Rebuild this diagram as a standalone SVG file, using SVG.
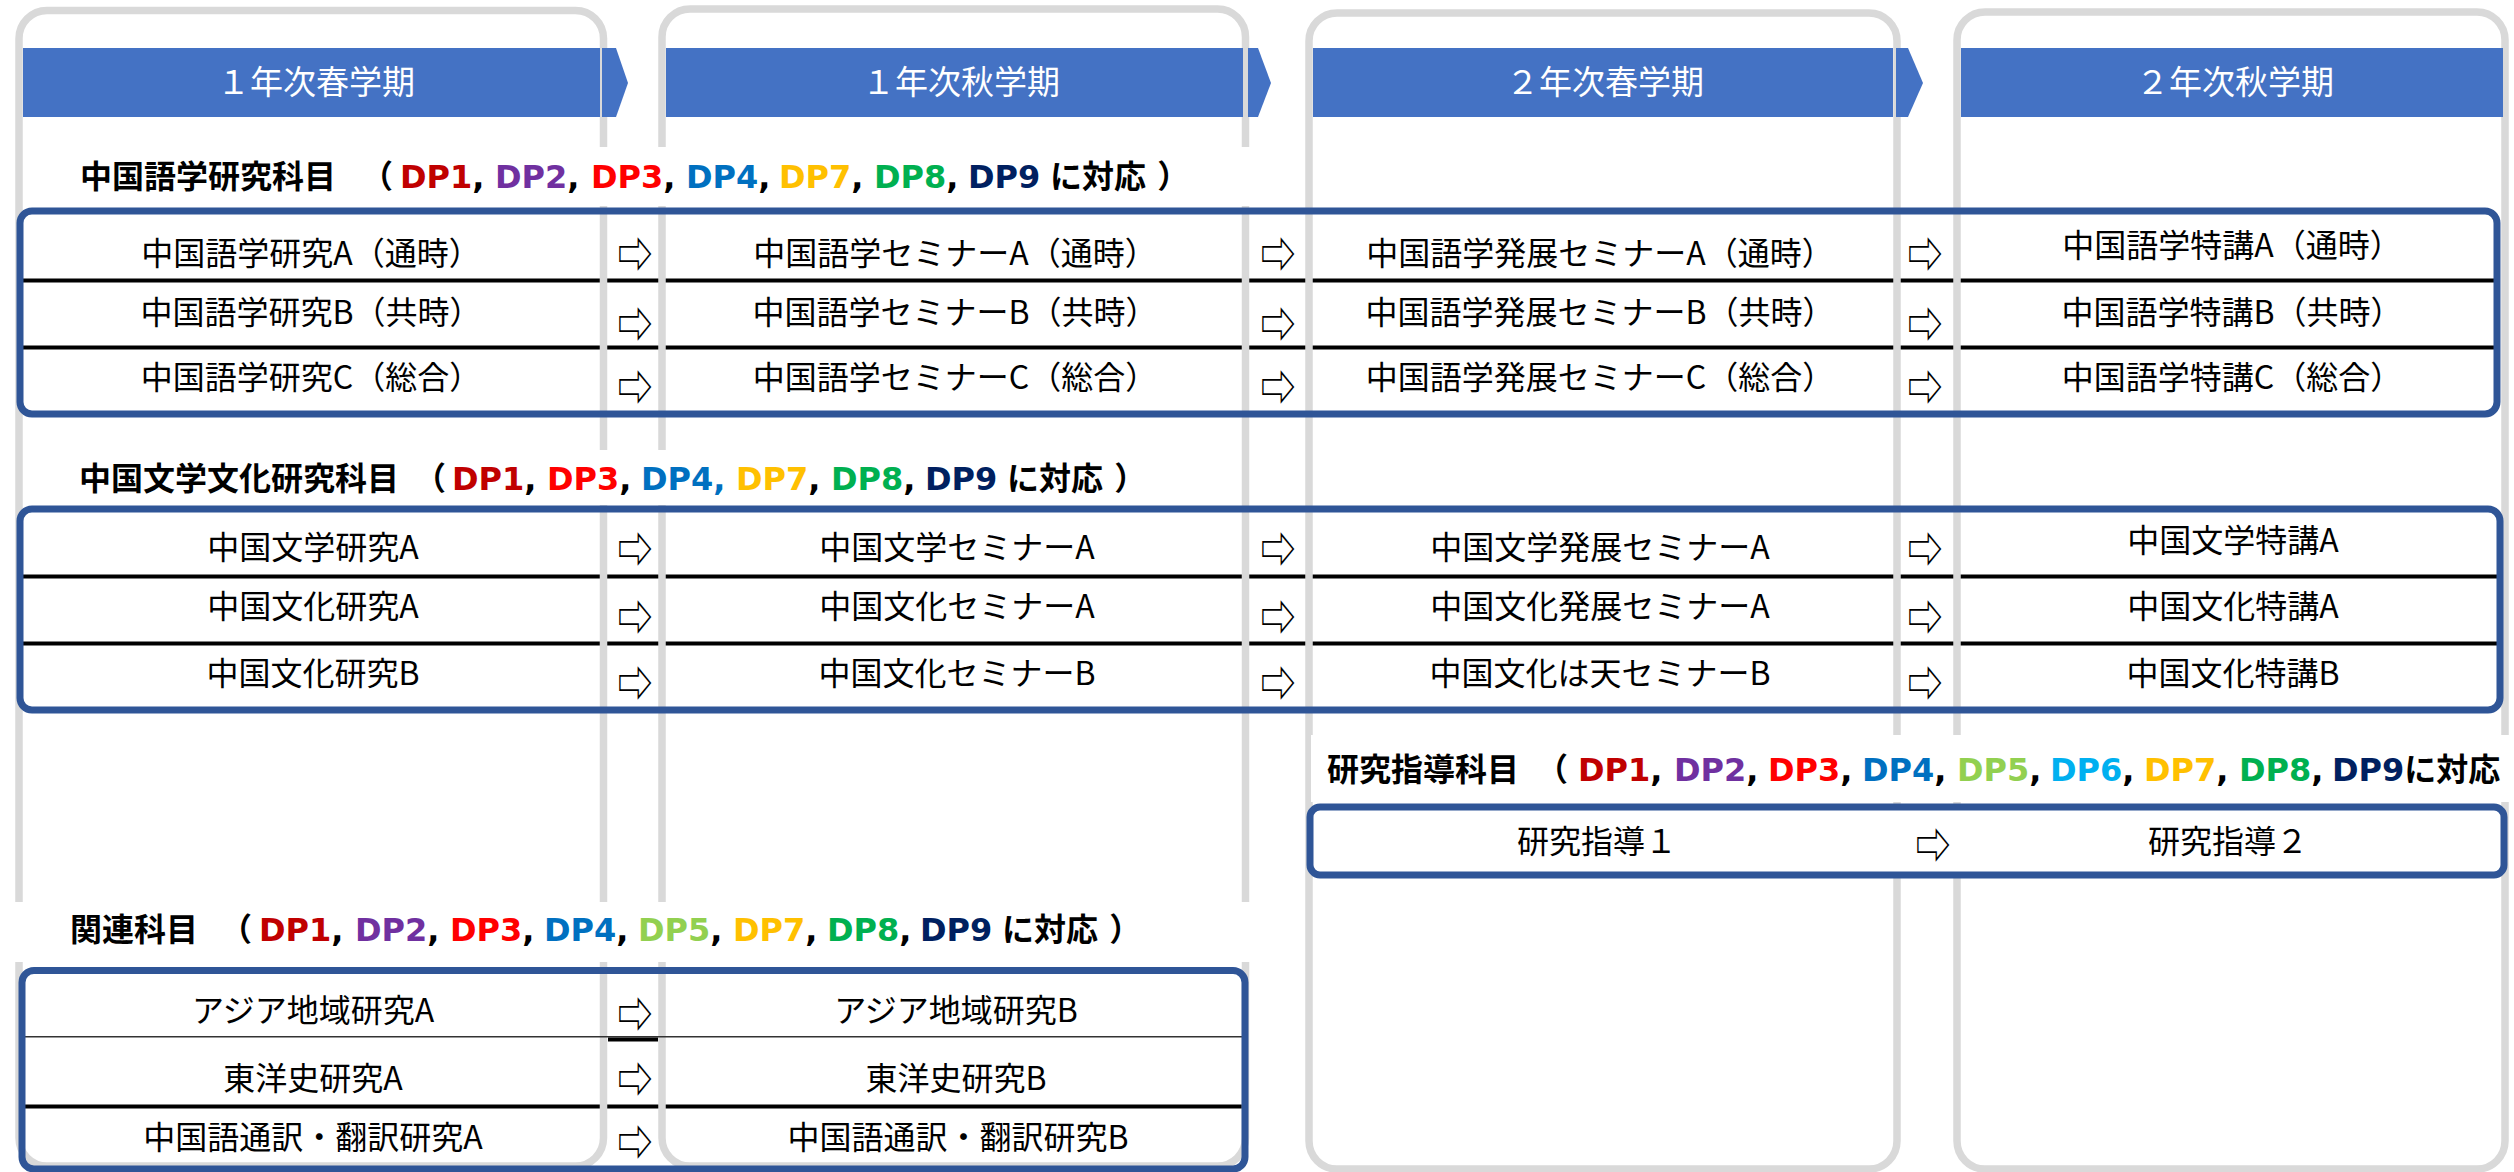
<svg xmlns="http://www.w3.org/2000/svg" width="2514" height="1172" viewBox="0 0 2514 1172">
<style>
.col{fill:none;stroke:#D9D9D9;stroke-width:7.5}
.hdr{fill:#4472C4}
.hdrt{font-family:"Noto Sans CJK JP",sans-serif;font-size:33px;fill:#FFFFFF;text-anchor:middle}
.box{fill:none;stroke:#2F5597;stroke-width:7}
.sep{stroke:#000;stroke-width:4}
.cell{font-family:"Noto Sans CJK JP",sans-serif;font-size:32px;fill:#000;text-anchor:middle}
.arr{font-family:"Noto Sans CJK JP","DejaVu Sans",sans-serif;font-size:35px;fill:#000;text-anchor:middle;dominant-baseline:central}
.h{font-family:"DejaVu Sans","Noto Sans CJK JP",sans-serif;font-size:32px;font-weight:bold;fill:#000}
.d1{fill:#C00000}.d2{fill:#7030A0}.d3{fill:#FF0000}.d4{fill:#0070C0}.d5{fill:#92D050}.d6{fill:#00B0F0}.d7{fill:#FFC000}.d8{fill:#00B050}.d9{fill:#002060}
</style>
<rect x="0" y="0" width="2514" height="1172" fill="#FFFFFF"/>
<g id="separators-under">
<line class="sep" x1="20" y1="280.5" x2="2497" y2="280.5"/>
<line class="sep" x1="20" y1="347.5" x2="2497" y2="347.5"/>
<line class="sep" x1="20" y1="576.5" x2="2500" y2="576.5"/>
<line class="sep" x1="20" y1="643.5" x2="2500" y2="643.5"/>
<line class="sep" x1="20" y1="1106.5" x2="1245" y2="1106.5"/>
</g>
<g id="columns">
<rect class="col" x="19" y="10.5" width="584.5" height="1155.5" rx="28"/>
<rect class="col" x="662" y="9" width="583.5" height="1157" rx="28"/>
<rect class="col" x="1309" y="13" width="588" height="1156" rx="28"/>
<rect class="col" x="1957" y="12" width="548" height="1157" rx="28"/>
</g>
<g id="term-1">
<rect class="hdr" x="23" y="48" width="577" height="69"/>
<polygon class="hdr" points="602,48 616,48 628,83 616,117 602,117"/>
<text class="hdrt" x="316" y="94">１年次春学期</text>
</g>
<g id="term-2">
<rect class="hdr" x="666" y="48" width="577" height="69"/>
<polygon class="hdr" points="1248,48 1258,48 1271,83 1258,117 1248,117"/>
<text class="hdrt" x="961" y="94">１年次秋学期</text>
</g>
<g id="term-3">
<rect class="hdr" x="1313" y="48" width="580" height="69"/>
<polygon class="hdr" points="1896,48 1908,48 1923,83 1908,117 1896,117"/>
<text class="hdrt" x="1605" y="94">２年次春学期</text>
</g>
<g id="term-4">
<rect class="hdr" x="1961" y="48" width="542" height="69"/>
<text class="hdrt" x="2235" y="94">２年次秋学期</text>
</g>
<g id="heading-backgrounds" fill="#FFFFFF">
<rect x="24" y="147" width="1266" height="59"/>
<rect x="24" y="450" width="1186" height="55"/>
<rect x="1311" y="735" width="1203" height="67"/>
<rect x="14" y="902" width="1246" height="60"/>
</g>
<g id="section-language">
<text class="h" x="80" y="188">中国語学研究科目 <tspan x="361">（</tspan><tspan x="400" class="d1">DP1</tspan>, <tspan x="495" class="d2">DP2</tspan>, <tspan x="591" class="d3">DP3</tspan>, <tspan x="686" class="d4">DP4</tspan>, <tspan x="779" class="d7">DP7</tspan>, <tspan x="874" class="d8">DP8</tspan>, <tspan x="968" class="d9">DP9</tspan><tspan x="1050">に対応 ）</tspan></text>
</g>
<g id="section-literature">
<text class="h" x="79" y="490">中国文学文化研究科目<tspan x="414">（</tspan><tspan x="452" class="d1">DP1</tspan>, <tspan x="547" class="d3">DP3</tspan>, <tspan x="641" class="d4">DP4,</tspan> <tspan x="736" class="d7">DP7</tspan>, <tspan x="831" class="d8">DP8</tspan>, <tspan x="925" class="d9">DP9</tspan><tspan x="1007">に対応 ）</tspan></text>
</g>
<g id="section-guidance">
<rect x="1310" y="807" width="1194" height="68" fill="#FFFFFF"/>
<text class="h" x="1327" y="781">研究指導科目 <tspan x="1536">（</tspan><tspan x="1578" class="d1">DP1</tspan>, <tspan x="1674" class="d2">DP2</tspan>, <tspan x="1768" class="d3">DP3</tspan>, <tspan x="1862" class="d4">DP4</tspan>, <tspan x="1957" class="d5">DP5</tspan>, <tspan x="2050" class="d6">DP6</tspan>, <tspan x="2144" class="d7">DP7</tspan>, <tspan x="2239" class="d8">DP8</tspan>, <tspan x="2332" class="d9">DP9</tspan>に対応</text>
</g>
<g id="section-related">
<text class="h" x="70" y="941">関連科目 <tspan x="220">（</tspan><tspan x="259" class="d1">DP1</tspan>, <tspan x="355" class="d2">DP2</tspan>, <tspan x="450" class="d3">DP3</tspan>, <tspan x="544" class="d4">DP4</tspan>, <tspan x="638" class="d5">DP5</tspan>, <tspan x="733" class="d7">DP7</tspan>, <tspan x="827" class="d8">DP8</tspan>, <tspan x="920" class="d9">DP9</tspan><tspan x="1002">に対応 ）</tspan></text>
</g>
<g id="separators-over">
<line x1="25" y1="1036.7" x2="1246" y2="1036.7" stroke="#333" stroke-width="1.6"/>
<line class="sep" x1="608" y1="1039.5" x2="658" y2="1039.5"/>
</g>
<g id="boxes">
<rect class="box" x="20" y="211" width="2477" height="203" rx="12"/>
<rect class="box" x="20" y="509" width="2480" height="201" rx="12"/>
<rect class="box" x="1310" y="807" width="1194" height="68" rx="10"/>
<rect class="box" x="22" y="970.5" width="1223" height="198.5" rx="12"/>
</g>
<g id="lang-y1s-a"><text class="cell" x="311" y="265">中国語学研究A（通時）</text></g>
<g id="lang-y1s-b"><text class="cell" x="311" y="324">中国語学研究B（共時）</text></g>
<g id="lang-y1s-c"><text class="cell" x="311" y="389">中国語学研究C（総合）</text></g>
<g id="lang-y1f-a"><text class="cell" x="955" y="265">中国語学セミナーA（通時）</text></g>
<g id="lang-y1f-b"><text class="cell" x="955" y="324">中国語学セミナーB（共時）</text></g>
<g id="lang-y1f-c"><text class="cell" x="955" y="389">中国語学セミナーC（総合）</text></g>
<g id="lang-y2s-a"><text class="cell" x="1600" y="265">中国語学発展セミナーA（通時）</text></g>
<g id="lang-y2s-b"><text class="cell" x="1600" y="324">中国語学発展セミナーB（共時）</text></g>
<g id="lang-y2s-c"><text class="cell" x="1600" y="389">中国語学発展セミナーC（総合）</text></g>
<g id="lang-y2f-a"><text class="cell" x="2232" y="257">中国語学特講A（通時）</text></g>
<g id="lang-y2f-b"><text class="cell" x="2232" y="324">中国語学特講B（共時）</text></g>
<g id="lang-y2f-c"><text class="cell" x="2232" y="389">中国語学特講C（総合）</text></g>
<g id="lit-y1s-a"><text class="cell" x="313" y="559">中国文学研究A</text></g>
<g id="lit-y1s-b"><text class="cell" x="313" y="618">中国文化研究A</text></g>
<g id="lit-y1s-c"><text class="cell" x="313" y="685">中国文化研究B</text></g>
<g id="lit-y1f-a"><text class="cell" x="957" y="559">中国文学セミナーA</text></g>
<g id="lit-y1f-b"><text class="cell" x="957" y="618">中国文化セミナーA</text></g>
<g id="lit-y1f-c"><text class="cell" x="957" y="685">中国文化セミナーB</text></g>
<g id="lit-y2s-a"><text class="cell" x="1600" y="559">中国文学発展セミナーA</text></g>
<g id="lit-y2s-b"><text class="cell" x="1600" y="618">中国文化発展セミナーA</text></g>
<g id="lit-y2s-c"><text class="cell" x="1600" y="685">中国文化は天セミナーB</text></g>
<g id="lit-y2f-a"><text class="cell" x="2233" y="552">中国文学特講A</text></g>
<g id="lit-y2f-b"><text class="cell" x="2233" y="618">中国文化特講A</text></g>
<g id="lit-y2f-c"><text class="cell" x="2233" y="685">中国文化特講B</text></g>
<g id="guidance-1"><text class="cell" x="1597" y="853">研究指導１</text></g>
<g id="guidance-2"><text class="cell" x="2228" y="853">研究指導２</text></g>
<g id="rel-a-1"><text class="cell" x="313" y="1022">アジア地域研究A</text></g>
<g id="rel-a-2"><text class="cell" x="956" y="1022">アジア地域研究B</text></g>
<g id="rel-b-1"><text class="cell" x="313" y="1090">東洋史研究A</text></g>
<g id="rel-b-2"><text class="cell" x="956" y="1090">東洋史研究B</text></g>
<g id="rel-c-1"><text class="cell" x="313" y="1149">中国語通訳・翻訳研究A</text></g>
<g id="rel-c-2"><text class="cell" x="958" y="1149">中国語通訳・翻訳研究B</text></g>
<g id="connectors">
<text class="arr" transform="translate(635 252) scale(1 1.35)">⇨</text>
<text class="arr" transform="translate(635 322) scale(1 1.35)">⇨</text>
<text class="arr" transform="translate(635 385) scale(1 1.35)">⇨</text>
<text class="arr" transform="translate(1278 252) scale(1 1.35)">⇨</text>
<text class="arr" transform="translate(1278 322) scale(1 1.35)">⇨</text>
<text class="arr" transform="translate(1278 385) scale(1 1.35)">⇨</text>
<text class="arr" transform="translate(1925 252) scale(1 1.35)">⇨</text>
<text class="arr" transform="translate(1925 322) scale(1 1.35)">⇨</text>
<text class="arr" transform="translate(1925 385) scale(1 1.35)">⇨</text>
<text class="arr" transform="translate(635 547) scale(1 1.35)">⇨</text>
<text class="arr" transform="translate(635 615) scale(1 1.35)">⇨</text>
<text class="arr" transform="translate(635 681) scale(1 1.35)">⇨</text>
<text class="arr" transform="translate(1278 547) scale(1 1.35)">⇨</text>
<text class="arr" transform="translate(1278 615) scale(1 1.35)">⇨</text>
<text class="arr" transform="translate(1278 681) scale(1 1.35)">⇨</text>
<text class="arr" transform="translate(1925 547) scale(1 1.35)">⇨</text>
<text class="arr" transform="translate(1925 615) scale(1 1.35)">⇨</text>
<text class="arr" transform="translate(1925 681) scale(1 1.35)">⇨</text>
<text class="arr" transform="translate(1933 843) scale(1 1.35)">⇨</text>
<text class="arr" transform="translate(635 1012) scale(1 1.35)">⇨</text>
<text class="arr" transform="translate(635 1077) scale(1 1.35)">⇨</text>
<text class="arr" transform="translate(635 1140) scale(1 1.35)">⇨</text>
</g>
</svg>
